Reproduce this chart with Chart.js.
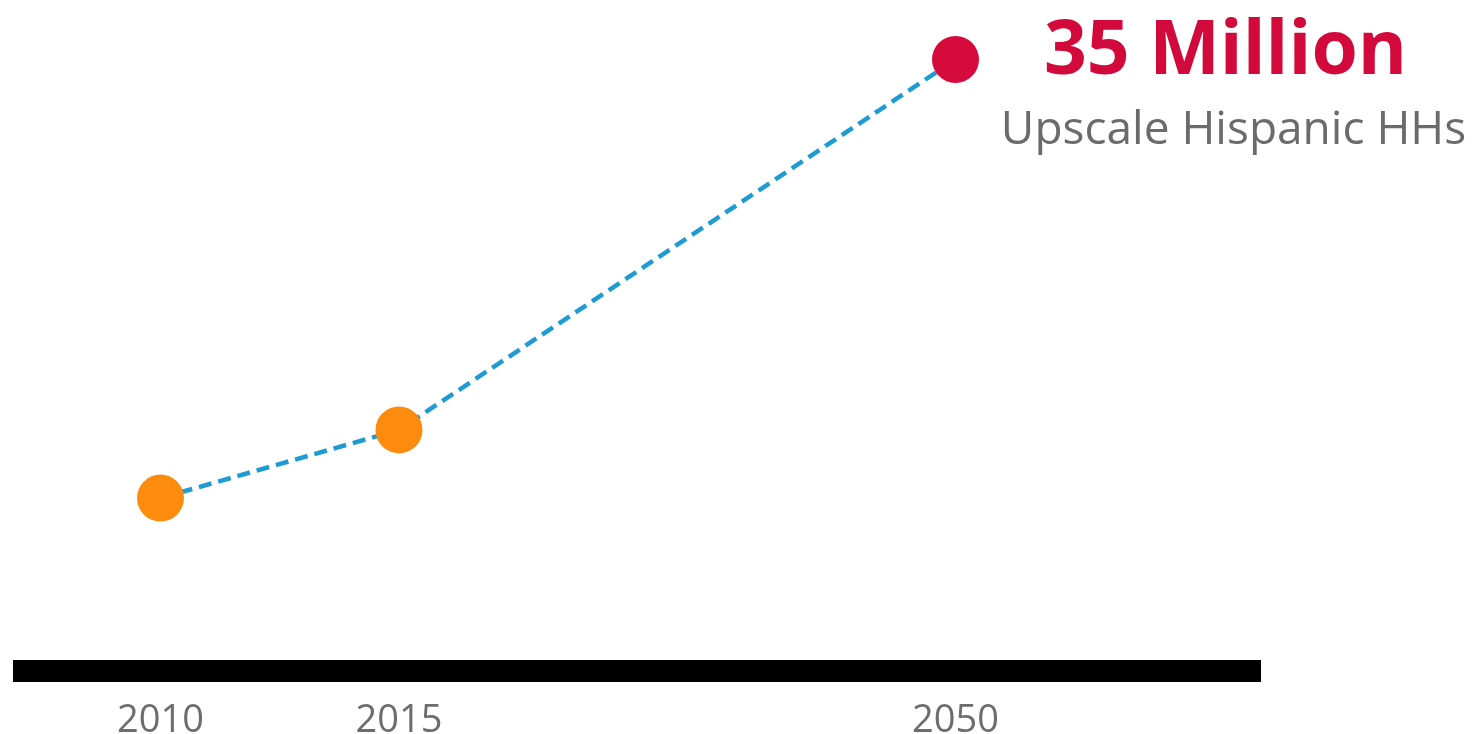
<!DOCTYPE html>
<html>
<head>
<meta charset="utf-8">
<script src="https://cdn.jsdelivr.net/npm/chart.js@4"></script>
<style>
  html, body { margin: 0; padding: 0; background: #fff; }
  #wrap { width: 1483px; height: 734px; }
</style>
</head>
<body>
<div id="wrap"><canvas id="chart" width="1483" height="734"></canvas></div>
<script>
// timeline years, their slot on the axis, and household counts (millions)
const years = ['2010', '2015', '2050'];
const yearSlots = [0, 3, 10];
const households = [9.9, 13.8, 35];
const pointColors = ['#fd8b0e', '#fd8b0e', '#d50b3b'];

const headline = '35 Million';
const subline = 'Upscale Hispanic HHs';

// callout next to the last point
const calloutPlugin = {
  id: 'callout',
  afterDatasetsDraw(chart) {
    const pt = chart.getDatasetMeta(0).data[households.length - 1];
    const ctx = chart.ctx;
    ctx.save();
    ctx.textAlign = 'center';
    ctx.textBaseline = 'alphabetic';
    ctx.fillStyle = '#d20a3c';
    ctx.font = 'bold 75px "Open Sans"';
    ctx.fillText(headline, pt.x + 270, pt.y + 15);
    ctx.fillStyle = '#6b6b6b';
    ctx.font = '46px "Open Sans"';
    ctx.fillText(subline, pt.x + 278, pt.y + 85);
    ctx.restore();
  }
};

new Chart(document.getElementById('chart'), {
  type: 'line',
  data: {
    datasets: [{
      data: yearSlots.map((s, i) => ({ x: s, y: households[i] })),
      borderColor: '#1e9bd2',
      borderWidth: 4.5,
      borderDash: [13, 7],
      pointRadius: 23.5,
      pointHoverRadius: 23.5,
      pointBorderWidth: 0,
      pointBackgroundColor: pointColors,
      clip: false,
      tension: 0
    }]
  },
  options: {
    responsive: false,
    animation: false,
    events: [],
    layout: { padding: { left: 12, right: 223, top: 0, bottom: 0 } },
    plugins: { legend: { display: false }, tooltip: { enabled: false } },
    scales: {
      x: {
        type: 'linear',
        min: -1.723,
        max: 13.83,
        grid: { display: false, drawTicks: false },
        border: { display: true, color: '#000', width: 22 },
        afterBuildTicks: scale => { scale.ticks = yearSlots.map(v => ({ value: v })); },
        afterFit: scale => { scale.height = 63; },
        ticks: {
          padding: 27,
          color: '#6d6d6d',
          font: { family: 'Open Sans', size: 38 },
          callback: v => years[yearSlots.indexOf(v)]
        }
      },
      y: {
        display: false,
        min: 0,
        max: 37.06
      }
    }
  },
  plugins: [calloutPlugin]
});
</script>
</body>
</html>
